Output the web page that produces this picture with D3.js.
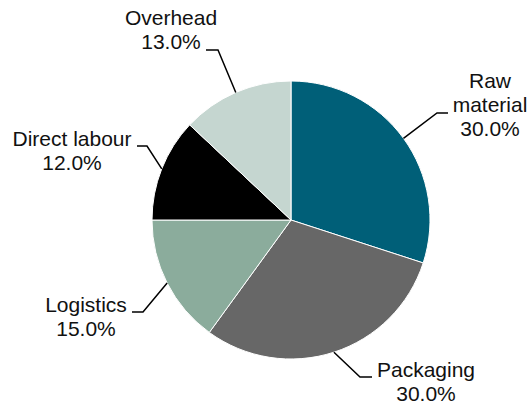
<!DOCTYPE html>
<html>
<head>
<meta charset="utf-8">
<script src="https://cdn.jsdelivr.net/npm/d3@7"></script>
<style>
  html, body { margin: 0; padding: 0; background: #fff; }
  text { font-family: "Liberation Sans", Arial, sans-serif; font-size: 21px; fill: #111; }
</style>
</head>
<body>
<div id="chart"></div>
<script>
const categories = ['Raw material', 'Packaging', 'Logistics', 'Direct labour', 'Overhead'];
const shares = [30, 30, 15, 12, 13];
const labelLines = [['Raw', 'material', '30.0%'], ['Packaging', '30.0%'], ['Logistics', '15.0%'], ['Direct labour', '12.0%'], ['Overhead', '13.0%']];
const colours = ['#005f78', '#676767', '#8bac9c', '#000000', '#c5d6d0'];

const width = 530, height = 405;
const cx = 291, cy = 220, radius = 139;

// label placement (elbow of leader, end of the short horizontal tick, text centre and first baseline)
const labelLayout = [
    {elbow: [437, 113], tick: 448, tx: 490, ty: 88},
    {elbow: [360, 377], tick: 372, tx: 426, ty: 377},
    {elbow: [143, 312], tick: 132, tx: 86, ty: 312},
    {elbow: [147, 146], tick: 137, tx: 72, ty: 146},
    {elbow: [218, 50], tick: 206, tx: 171, ty: 25}
];

const svg = d3.select('#chart')
    .append('svg')
    .attr('width', width)
    .attr('height', height);

const data = categories.map((c, i) => ({name: c, value: shares[i], i}));

const pie = d3.pie()
    .sort(null)
    .value(d => d.value);

const arc = d3.arc()
    .innerRadius(0)
    .outerRadius(radius);

const slices = pie(data);

const graph = svg.append('g')
    .attr('transform', `translate(${cx}, ${cy})`);

graph.selectAll('path')
    .data(slices)
    .enter()
    .append('path')
    .attr('d', arc)
    .attr('fill', d => colours[d.data.i])
    .attr('stroke', 'white')
    .attr('stroke-width', 1);

// leader lines start at the middle of each slice's outer edge
const edge = d3.arc().innerRadius(radius).outerRadius(radius);

svg.selectAll('polyline.leader')
    .data(slices)
    .enter()
    .append('polyline')
    .attr('class', 'leader')
    .attr('fill', 'none')
    .attr('stroke', '#000')
    .attr('stroke-width', 1.5)
    .attr('points', d => {
        const [x, y] = edge.centroid(d);
        const l = labelLayout[d.data.i];
        return [[cx + x, cy + y], l.elbow, [l.tick, l.elbow[1]]].map(p => p.join(',')).join(' ');
    });

const labels = svg.selectAll('text.label')
    .data(data)
    .enter()
    .append('text')
    .attr('class', 'label')
    .attr('text-anchor', 'middle');

labels.selectAll('tspan')
    .data(d => labelLines[d.i].map((t, k) => ({t, k, i: d.i})))
    .enter()
    .append('tspan')
    .attr('x', d => labelLayout[d.i].tx)
    .attr('y', d => labelLayout[d.i].ty + d.k * 24)
    .text(d => d.t);
</script>
</body>
</html>
